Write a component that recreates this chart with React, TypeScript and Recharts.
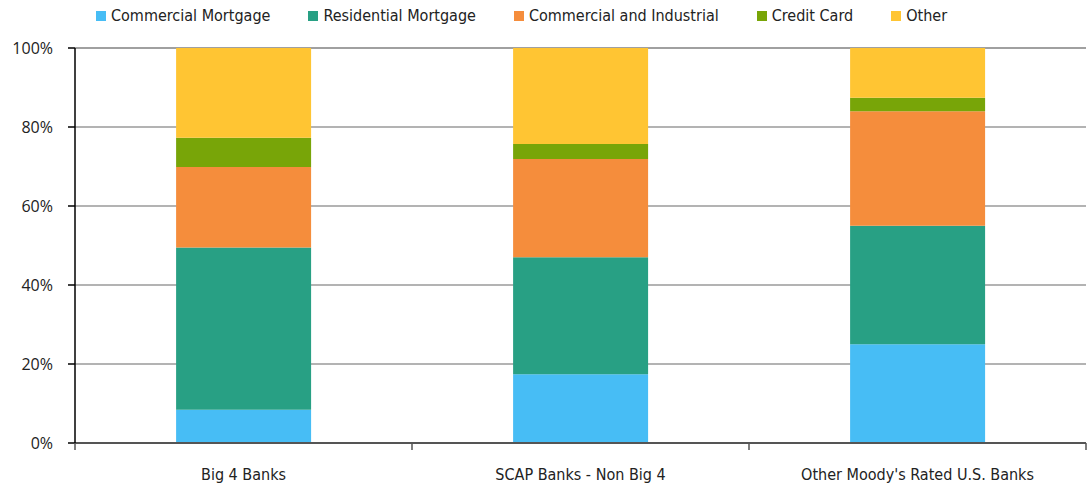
import React from "react";
import { BarChart, Bar, XAxis, YAxis, CartesianGrid } from "recharts";

const categories = ["Big 4 Banks", "SCAP Banks - Non Big 4", "Other Moody's Rated U.S. Banks"];
const commercialMortgage = [8.4, 17.4, 25.0];
const residentialMortgage = [41.1, 29.6, 30.0];
const commercialIndustrial = [20.4, 24.9, 29.0];
const creditCard = [7.4, 3.8, 3.4];
const other = [22.7, 24.3, 12.6];
const yTicks = [0, 20, 40, 60, 80, 100];

const series = [
  { key: "cm", name: "Commercial Mortgage", color: "#47BDF5", values: commercialMortgage },
  { key: "rm", name: "Residential Mortgage", color: "#28A084", values: residentialMortgage },
  { key: "ci", name: "Commercial and Industrial", color: "#F58D3C", values: commercialIndustrial },
  { key: "cc", name: "Credit Card", color: "#78A508", values: creditCard },
  { key: "ot", name: "Other", color: "#FFC533", values: other },
];

const data = categories.map((c, i) => {
  const row: Record<string, any> = { name: c };
  series.forEach((s) => (row[s.key] = s.values[i]));
  return row;
});

const narrowFont = "'Liberation Sans Narrow', 'DejaVu Sans Condensed', 'Open Sans', sans-serif";

const XTick = (props: any) => {
  const { x, y, payload, index, visibleTicksCount } = props;
  const half = payload && payload.offset ? payload.offset : 0;
  const isLast = index === (visibleTicksCount ?? categories.length) - 1;
  return (
    <g>
      <line x1={x - half} x2={x - half} y1={y} y2={y + 7} stroke="#555" strokeWidth={1.5} />
      {isLast && <line x1={x + half} x2={x + half} y1={y} y2={y + 7} stroke="#555" strokeWidth={1.5} />}
      <text x={x} y={y + 26} dy="0.71em" textAnchor="middle" fill="#222" fontSize={16} fontFamily={narrowFont}>
        {payload.value}
      </text>
    </g>
  );
};

export default function App() {
  return (
    <div style={{ position: "absolute", left: 0, top: 0, width: 1091, height: 489, background: "#fff" }}>
      <div
        style={{
          position: "absolute",
          top: 6,
          left: 96,
          display: "flex",
          alignItems: "center",
          fontFamily: narrowFont,
          fontSize: 16,
          color: "#222",
          whiteSpace: "nowrap",
        }}
      >
        {series.map((s, i) => (
          <div key={s.key} style={{ display: "flex", alignItems: "center", marginLeft: i === 0 ? 0 : 38 }}>
            <span style={{ display: "inline-block", width: 10, height: 10, background: s.color, marginRight: 5 }} />
            <span>{s.name}</span>
          </div>
        ))}
      </div>
      <BarChart
        width={1091}
        height={489}
        data={data}
        margin={{ top: 48, right: 5, bottom: 0, left: 0 }}
        barCategoryGap="30%"
      >
        <CartesianGrid vertical={false} stroke="#9a9a9a" strokeWidth={1.5} />
        <XAxis
          dataKey="name"
          tick={<XTick />}
          tickLine={false}
          tickSize={0}
          tickMargin={0}
          height={46}
          axisLine={{ stroke: "#555", strokeWidth: 2 }}
          interval={0}
        />
        <YAxis
          width={75}
          domain={[0, 100]}
          ticks={yTicks}
          tickFormatter={(v: number) => `${v}%`}
          tickSize={7}
          tickMargin={15}
          tickLine={{ stroke: "#000", strokeWidth: 1.5 }}
          axisLine={{ stroke: "#000", strokeWidth: 1.5 }}
          tick={{ fill: "#222", fontSize: 16, fontFamily: "'Open Sans', sans-serif" }}
          interval={0}
        />
        {series.map((s) => (
          <Bar key={s.key} dataKey={s.key} name={s.name} stackId="a" fill={s.color} isAnimationActive={false} />
        ))}
      </BarChart>
    </div>
  );
}
